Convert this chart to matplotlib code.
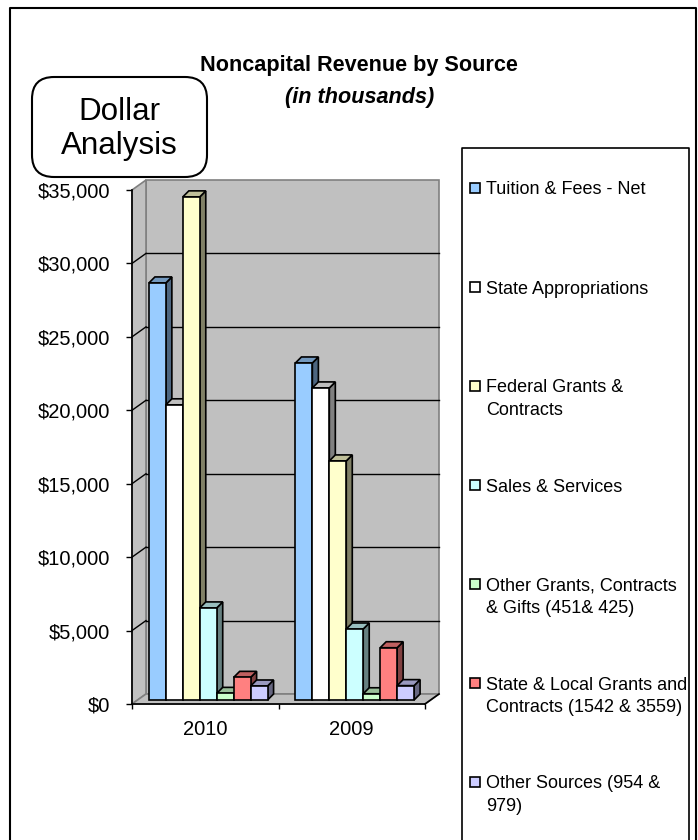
import matplotlib.pyplot as plt
import matplotlib.colors as mcolors
import numpy as np
from matplotlib.patches import Rectangle, Polygon, FancyBboxPatch

plt.rcParams['font.family'] = ['Liberation Sans', 'DejaVu Sans']

years = ['2010', '2009']
sources = ['Tuition & Fees - Net',
           'State Appropriations',
           'Federal Grants &\nContracts',
           'Sales & Services',
           'Other Grants, Contracts\n& Gifts (451& 425)',
           'State & Local Grants and\nContracts (1542 & 3559)',
           'Other Sources (954 &\n979)']
tuition = [28400, 22950]
state_approp = [20100, 21250]
federal = [34260, 16280]
sales = [6270, 4835]
other_grants = [451, 425]
state_local = [1542, 3559]
other_sources = [954, 979]
series_vals = [tuition, state_approp, federal, sales, other_grants, state_local, other_sources]
colors = ['#99ccff', '#ffffff', '#ffffcc', '#ccffff', '#ccffcc', '#ff8080', '#ccccff']
yticks = np.arange(0, 35001, 5000)

W, H = 698, 840
fig = plt.figure(figsize=(W / 100, H / 100), dpi=100)

# background axes in pixel units for frame, title box and legend
bg = fig.add_axes([0, 0, 1, 1])
bg.set_xlim(0, W)
bg.set_ylim(H, 0)
bg.axis('off')

# plot area (front plane)
x0p, x1p, y0p, y1p = 132, 425, 704, 190
ax = fig.add_axes([x0p / W, 1 - y0p / H, (x1p - x0p) / W, (y0p - y1p) / H])
ax.set_xlim(0, 2)
ax.set_ylim(0, 35000)
ax.patch.set_visible(False)
sx = 2 / (x1p - x0p)
sy = 35000 / (y0p - y1p)

wall = '#c0c0c0'
wedge = '#808080'
wdx, wdy = 14 * sx, 10 * sy
ymax = yticks[-1]

# back wall, side wall, floor
ax.add_patch(Rectangle((wdx, wdy), 2, ymax, facecolor=wall, edgecolor=wedge,
                       lw=1.2, zorder=0.5, clip_on=False))
ax.add_patch(Polygon([(0, 0), (0, ymax), (wdx, ymax + wdy), (wdx, wdy)],
                     facecolor=wall, edgecolor=wedge, lw=1.2, zorder=0.6, clip_on=False))
ax.add_patch(Polygon([(0, 0), (2, 0), (2 + wdx, wdy), (wdx, wdy)],
                     facecolor=wall, edgecolor=wedge, lw=1.2, zorder=0.6, clip_on=False))
ax.plot([2, 2 + wdx], [0, wdy], color='black', lw=1.2, zorder=0.7, clip_on=False)

for v in yticks[1:-1]:
    ax.plot([wdx, 2 + wdx], [v + wdy, v + wdy], color='black', lw=1, zorder=0.8, clip_on=False)
    ax.plot([0, wdx], [v, v + wdy], color='black', lw=1, zorder=0.8, clip_on=False)

# bars
w = 0.1157
bdx, bdy = 3 * sx, 4 * sy
ddx, ddy = 6 * sx, 6 * sy
for i in range(len(years)):
    for j, vals in enumerate(series_vals):
        c = np.array(mcolors.to_rgb(colors[j]))
        left = i + 0.5 + (j - 3.5) * w + bdx
        right = left + w
        top = bdy + vals[i]
        ax.add_patch(Polygon([(right, bdy), (right, top), (right + ddx, top + ddy), (right + ddx, bdy + ddy)],
                             facecolor=c * 0.5, edgecolor='black', lw=1.2, zorder=3, clip_on=False))
        ax.add_patch(Polygon([(left, top), (right, top), (right + ddx, top + ddy), (left + ddx, top + ddy)],
                             facecolor=c * 0.75, edgecolor='black', lw=1.2, zorder=3, clip_on=False))
        ax.add_patch(Rectangle((left, bdy), w, vals[i], facecolor=c, edgecolor='black',
                               lw=1.2, zorder=3, clip_on=False))

for s in ['top', 'right']:
    ax.spines[s].set_visible(False)
for s in ['left', 'bottom']:
    ax.spines[s].set_linewidth(1.2)
    ax.spines[s].set_zorder(2)

ax.set_yticks(yticks)
ax.set_yticklabels([f'${v:,}' for v in yticks])
ax.tick_params(axis='y', length=4.3, width=1, pad=11.5, labelsize=14.5)
ax.set_xticks([0, 1, 2])
ax.set_xticklabels([])
ax.set_xticks([0.5, 1.5], minor=True)
ax.set_xticklabels(years, minor=True)
ax.tick_params(axis='x', which='major', length=3.6, width=1)
ax.tick_params(axis='x', which='minor', length=0, pad=11.5, labelsize=14.5)

# titles
bg.text(359, 66, 'Noncapital Revenue by Source', ha='center', va='center',
        fontsize=15.6, fontweight='bold')
bg.text(360, 97, '(in thousands)', ha='center', va='center',
        fontsize=15.6, fontweight='bold', style='italic')

# dollar analysis box
bg.add_patch(FancyBboxPatch((32, 77), 175, 100, boxstyle='round,pad=0,rounding_size=22',
                            facecolor='white', edgecolor='black', lw=1.5))
bg.text(119, 129, 'Dollar\nAnalysis', ha='center', va='center', fontsize=22.6,
        linespacing=1.15)

# frame and legend box
bg.plot([10, 10, 696, 696], [H, 8, 8, H], color='black', lw=1.5)
bg.plot([462, 462, 689, 689], [H, 148, 148, H], color='black', lw=1.2)
for k, name in enumerate(sources):
    yc = 188 + k * 99
    bg.add_patch(Rectangle((470, yc - 5), 10, 10, facecolor=colors[k], edgecolor='black', lw=1.2))
    for m, line in enumerate(name.split('\n')):
        bg.text(486, yc + 6.5 + m * 22.5, line, ha='left', va='baseline', fontsize=13.0)

fig.savefig('out.png', dpi=100)
